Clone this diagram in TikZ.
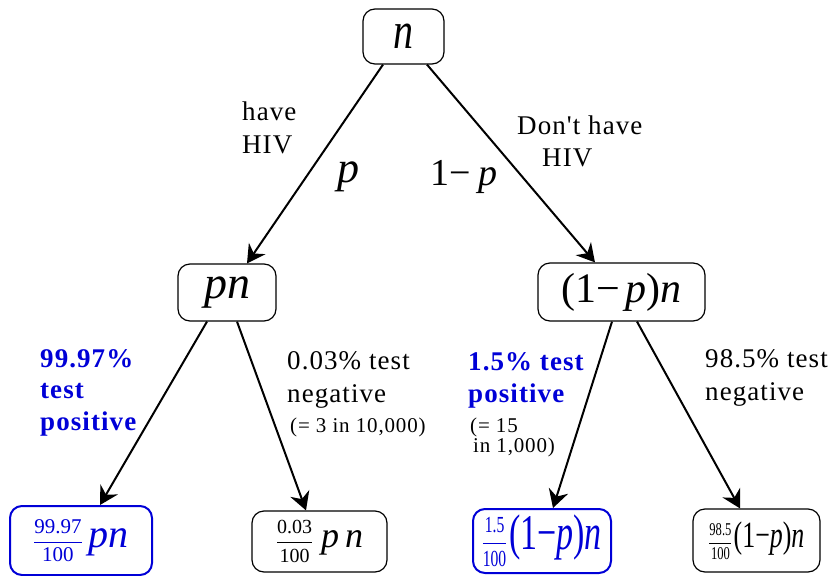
\documentclass[tikz,border=0pt]{standalone}
\usepackage{amsmath}
\usepackage{fontspec}
\setmainfont{Liberation Serif}[ItalicFont={Liberation Serif Italic},BoldFont={Liberation Serif Bold}]
\newfontfamily\lblfont{Liberation Serif}[LetterSpace=4,ItalicFont={Liberation Serif Italic},BoldFont={Liberation Serif Bold}]
\usetikzlibrary{arrows.meta,calc}
\definecolor{myblue}{RGB}{0,0,215}
\newcommand{\fsz}[2]{\fontsize{#1}{#2}\selectfont}
\newcommand{\myfr}[3]{{\fsz{#1}{#1}\ensuremath{\dfrac{\mbox{#2}}{\mbox{#3}}}}}
\tikzset{
  box/.style={draw, rounded corners=12pt, line width=1.2pt, inner sep=0pt, anchor=center},
  bbox/.style={box, draw=myblue, line width=2pt, text=myblue},
  conn/.style={line width=2pt, -{Stealth[length=18pt,width=20pt,inset=6pt]}},
  lbl/.style={inner sep=0pt, anchor=base west, align=left},
}
\begin{document}
\begin{tikzpicture}[x=1pt,y=-1pt]
\useasboundingbox (0,0) rectangle (836,576);
% boxes
\node[box, minimum width=81pt, minimum height=55pt] (n) at (403.5,36.5)
  {\scalebox{1}[1.3]{\fsz{40}{40}\textit{n}}};
\node[box, minimum width=98pt, minimum height=57pt] (pn) at (227,292.5)
  {\fsz{46}{46}\textit{pn}};
\node[box, minimum width=167pt, minimum height=58pt] (qn) at (621.5,292)
  {\fsz{42}{42}(1−\hspace{6pt}\textit{p})\textit{n}};
\node[bbox, minimum width=142pt, minimum height=69pt] (b1) at (81,540.5)
  {\myfr{21}{99.97}{100}\hspace{6pt}{\fsz{40}{40}\textit{pn}}};
\node[box, minimum width=135pt, minimum height=61pt] (b2) at (319.5,541.5)
  {\myfr{20}{0.03}{100}\hspace{8pt}{\fsz{36}{36}\textit{p}\hspace{6pt}\textit{n}}};
\node[bbox, minimum width=138pt, minimum height=64pt] (b3) at (542,541)
  {\scalebox{0.68}[1]{\fsz{50}{50}\myfr{23}{1.5}{100}\hspace{3pt}(1−\textit{p})\textit{n}}};
\node[box, minimum width=127pt, minimum height=63pt] (b4) at (756.5,540.5)
  {\scalebox{0.7}[1]{\fsz{37}{37}\myfr{18}{98.5}{100}\hspace{2pt}(1−\textit{p})\textit{n}}};
% connectors
\draw[conn] ([xshift=-20.5pt]n.south) -- ([xshift=20pt]pn.north);
\draw[conn] ([xshift=23.5pt]n.south) -- ([xshift=-26.5pt]qn.north);
\draw[conn] ([xshift=-20pt]pn.south) -- ([xshift=19pt]b1.north);
\draw[conn] ([xshift=10pt]pn.south) -- ([xshift=-13.5pt]b2.north);
\draw[conn] ([xshift=-9.5pt]qn.south) -- ([xshift=11pt]b3.north);
\draw[conn] ([xshift=15.5pt]qn.south) -- ([xshift=-16.5pt]b4.north);
% labels (base = baseline of last line)
\node[lbl, font=\lblfont\fsz{27}{33}] (lhave) at (242,153) {have\\HIV};
\node[lbl, font=\fsz{44}{44}] (lp) at (337,182) {\textit{p}};
\node[lbl, font=\fsz{38}{38}] (lq) at (430,185) {1−\hspace{8pt}\textit{p}};
\node[lbl, font=\lblfont\fsz{27}{32}] (lnot) at (517,166) {Don't have\\\hspace{25pt}HIV};
\node[lbl, font=\lblfont\bfseries\fsz{27}{31.5}, text=myblue] (lpos1) at (40,430) {99.97\%\\test\\positive};
\node[lbl, font=\lblfont\fsz{27}{33}] (lneg1) at (287,402) {0.03\% test\\negative};
\node[lbl, font=\lblfont\fsz{21}{21}] (lneg1b) at (290,432) {(= 3 in 10,000)};
\node[lbl, font=\lblfont\bfseries\fsz{27}{32}, text=myblue] (lpos2) at (468,402) {1.5\% test\\positive};
\node[lbl, font=\lblfont\fsz{21}{20}] (lpos2b) at (470,452) {(= 15\\\hspace{3pt}in 1,000)};
\node[lbl, font=\lblfont\fsz{27}{33}] (lneg2) at (705,400) {98.5\% test\\negative};
\end{tikzpicture}
\end{document}
